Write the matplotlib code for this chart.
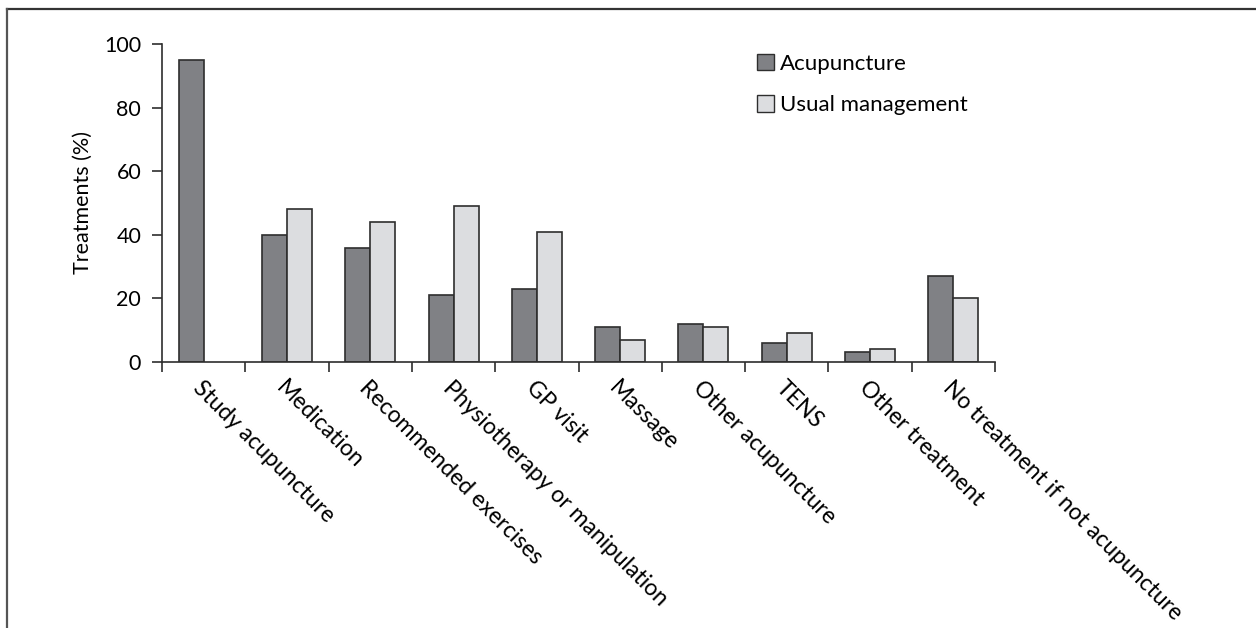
import numpy as np
import matplotlib
matplotlib.use("Agg")
from matplotlib import pyplot as plt
from matplotlib.lines import Line2D
from matplotlib.patches import Patch

plt.rcParams['font.family'] = ['Lato', 'DejaVu Sans']

categories = ["Study acupuncture", "Medication", "Recommended exercises",
              "Physiotherapy or manipulation", "GP visit", "Massage",
              "Other acupuncture", "TENS", "Other treatment",
              "No treatment if not acupuncture"]
acupuncture = [95, 40, 36, 21, 23, 11, 12, 6, 3, 27]
usual = [0, 48, 44, 49, 41, 7, 11, 9, 4, 20]
yticks = [0, 20, 40, 60, 80, 100]

dark = "#808185"
light = "#dcdde0"
edge = "#2e2e2e"

fig = plt.figure(figsize=(12.56, 6.28), dpi=100)
ax = fig.add_axes([162/1256, 1 - 362/628, (995-162)/1256, (362-44)/628])

x = np.arange(len(categories))
w = 0.3
ax.bar(x + 0.5 - w/2, acupuncture, w, color=dark, edgecolor=edge, linewidth=1.2, zorder=2)
# usual management has no study acupuncture bar
ax.bar(x[1:] + 0.5 + w/2, usual[1:], w, color=light, edgecolor=edge, linewidth=1.2, zorder=2)

ax.set_xlim(0, len(categories))
ax.set_ylim(0, 100)
ax.set_yticks(yticks)
ax.set_yticklabels([str(v) for v in yticks], fontsize=15.5)
ax.set_xticks(np.arange(len(categories) + 1))
ax.set_xticklabels([])
ax.set_xticks(x + 0.5, categories, minor=True)
ax.tick_params(axis='x', which='major', direction='out', length=7, width=1.2, color=edge)
ax.tick_params(axis='x', which='minor', length=0, pad=11, labelsize=16.5)
ax.tick_params(axis='y', direction='out', length=7, width=1.2, color=edge, pad=8)
for lab in ax.get_xticklabels(minor=True):
    lab.set_rotation(-45)
    lab.set_rotation_mode('anchor')
    lab.set_ha('left')
    lab.set_va('top')

for s in ['top', 'right']:
    ax.spines[s].set_visible(False)
for s in ['left', 'bottom']:
    ax.spines[s].set_linewidth(1.2)
    ax.spines[s].set_color(edge)

ax.set_ylabel("Treatments (%)", fontsize=15.5, labelpad=8)

handles = [Patch(facecolor=dark, edgecolor=edge, linewidth=1.0),
           Patch(facecolor=light, edgecolor=edge, linewidth=1.0)]
fig.legend(handles, ["Acupuncture", "Usual management"], loc='upper left',
           bbox_to_anchor=(737/1256, 1 - 34/628), frameon=False, fontsize=16,
           handlelength=0.75, handleheight=0.75, handletextpad=0.3, labelspacing=0.95)

# frame lines at top and left of the figure
fig.add_artist(Line2D([7/1256, 1], [1 - 9/628, 1 - 9/628], color="#333333", linewidth=1.6))
fig.add_artist(Line2D([7/1256, 7/1256], [0, 1 - 9/628], color="#555555", linewidth=1.6))

fig.savefig("out.png", dpi=100)
